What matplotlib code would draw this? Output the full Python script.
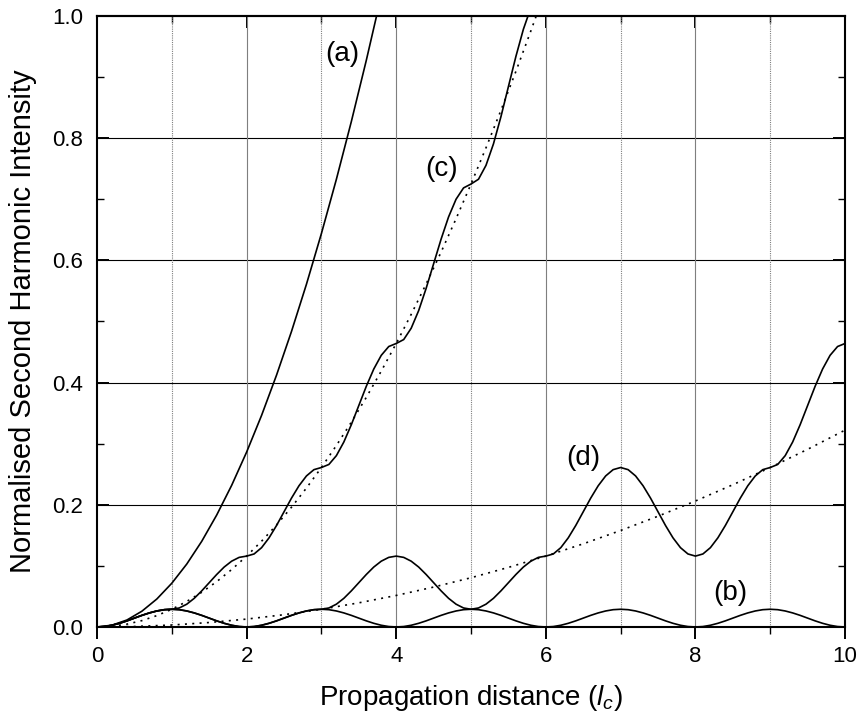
import numpy as np
import matplotlib
matplotlib.use('Agg')
import matplotlib.pyplot as plt
from matplotlib.ticker import MultipleLocator

plt.rcParams['font.family'] = ['Liberation Sans', 'DejaVu Sans']
plt.rcParams['mathtext.fontset'] = 'custom'
plt.rcParams['mathtext.rm'] = 'Liberation Sans'
plt.rcParams['mathtext.it'] = 'Liberation Sans:italic'

# --- DATA ---
# curve (a): perfect phase matching, sampled every 0.2 l_c
x_a = np.linspace(0, 4, 21)
y_a = [0, 0.0029, 0.0114, 0.0258, 0.0458, 0.0716, 0.1030, 0.1402, 0.1832, 0.2318,
       0.2862, 0.3463, 0.4122, 0.4837, 0.5610, 0.6440, 0.7327, 0.8272, 0.9274,
       1.0333, 1.1450]

# curve (b): no phase matching, sampled every 0.1 l_c
x_b = np.linspace(0, 10, 101)
y_b = [0, 0.0007, 0.0028, 0.0060, 0.0100, 0.0145, 0.0190, 0.0230, 0.0262, 0.0283,
       0.0290, 0.0283, 0.0262, 0.0230, 0.0190, 0.0145, 0.0100, 0.0060, 0.0028, 0.0007,
       0, 0.0007, 0.0028, 0.0060, 0.0100, 0.0145, 0.0190, 0.0230, 0.0262, 0.0283,
       0.0290, 0.0283, 0.0262, 0.0230, 0.0190, 0.0145, 0.0100, 0.0060, 0.0028, 0.0007,
       0, 0.0007, 0.0028, 0.0060, 0.0100, 0.0145, 0.0190, 0.0230, 0.0262, 0.0283,
       0.0290, 0.0283, 0.0262, 0.0230, 0.0190, 0.0145, 0.0100, 0.0060, 0.0028, 0.0007,
       0, 0.0007, 0.0028, 0.0060, 0.0100, 0.0145, 0.0190, 0.0230, 0.0262, 0.0283,
       0.0290, 0.0283, 0.0262, 0.0230, 0.0190, 0.0145, 0.0100, 0.0060, 0.0028, 0.0007,
       0, 0.0007, 0.0028, 0.0060, 0.0100, 0.0145, 0.0190, 0.0230, 0.0262, 0.0283,
       0.0290, 0.0283, 0.0262, 0.0230, 0.0190, 0.0145, 0.0100, 0.0060, 0.0028, 0.0007,
       0]

# curve (c): first-order QPM, sampled every 0.1 l_c
x_c = np.linspace(0, 6, 61)
y_c = [0, 0.0007, 0.0028, 0.0060, 0.0100, 0.0145, 0.0190, 0.0230, 0.0262, 0.0283,
       0.0290, 0.0311, 0.0373, 0.0469, 0.0591, 0.0725, 0.0859, 0.0981, 0.1077, 0.1139,
       0.1160, 0.1195, 0.1298, 0.1459, 0.1661, 0.1885, 0.2109, 0.2311, 0.2472, 0.2575,
       0.2610, 0.2660, 0.2804, 0.3028, 0.3311, 0.3625, 0.3939, 0.4222, 0.4446, 0.4590,
       0.4640, 0.4704, 0.4889, 0.5178, 0.5542, 0.5945, 0.6348, 0.6712, 0.7001, 0.7186,
       0.7250, 0.7328, 0.7555, 0.7907, 0.8352, 0.8845, 0.9338, 0.9783, 1.0135, 1.0362,
       1.0440]

# curve (d): third-order QPM, sampled every 0.1 l_c
x_d = np.linspace(0, 10, 101)
y_d = [0, 0.0007, 0.0028, 0.0060, 0.0100, 0.0145, 0.0190, 0.0230, 0.0262, 0.0283,
       0.0290, 0.0283, 0.0262, 0.0230, 0.0190, 0.0145, 0.0100, 0.0060, 0.0028, 0.0007,
       0, 0.0007, 0.0028, 0.0060, 0.0100, 0.0145, 0.0190, 0.0230, 0.0262, 0.0283,
       0.0290, 0.0311, 0.0373, 0.0469, 0.0591, 0.0725, 0.0859, 0.0981, 0.1077, 0.1139,
       0.1160, 0.1139, 0.1077, 0.0981, 0.0859, 0.0725, 0.0591, 0.0469, 0.0373, 0.0311,
       0.0290, 0.0311, 0.0373, 0.0469, 0.0591, 0.0725, 0.0859, 0.0981, 0.1077, 0.1139,
       0.1160, 0.1195, 0.1298, 0.1459, 0.1661, 0.1885, 0.2109, 0.2311, 0.2472, 0.2575,
       0.2610, 0.2575, 0.2472, 0.2311, 0.2109, 0.1885, 0.1661, 0.1459, 0.1298, 0.1195,
       0.1160, 0.1195, 0.1298, 0.1459, 0.1661, 0.1885, 0.2109, 0.2311, 0.2472, 0.2575,
       0.2610, 0.2660, 0.2804, 0.3028, 0.3311, 0.3625, 0.3939, 0.4222, 0.4446, 0.4590,
       0.4640]

# dotted envelopes for (c) and (d)
x_c_env = np.linspace(0, 6, 31)
y_c_env = [0, 0.0012, 0.0046, 0.0104, 0.0186, 0.0290, 0.0418, 0.0568, 0.0742, 0.0940,
           0.1160, 0.1404, 0.1670, 0.1960, 0.2274, 0.2610, 0.2970, 0.3352, 0.3758, 0.4188,
           0.4640, 0.5116, 0.5614, 0.6136, 0.6682, 0.7250, 0.7842, 0.8456, 0.9094, 0.9756,
           1.0440]
x_d_env = np.linspace(0, 10, 21)
y_d_env = [0, 0.0008, 0.0032, 0.0073, 0.0129, 0.0201, 0.0290, 0.0395, 0.0516, 0.0653,
           0.0806, 0.0975, 0.1160, 0.1361, 0.1579, 0.1813, 0.2062, 0.2328, 0.2610, 0.2908,
           0.3222]

curve_labels = ['(a)', '(b)', '(c)', '(d)']
label_pos = [(3.28, 0.938), (8.46, 0.056), (4.6, 0.75), (6.5, 0.276)]

# --- PLOT ---
fig = plt.figure(figsize=(8.6, 7.2), dpi=100)
ax = fig.add_axes([0.1128, 0.1292, 0.8698, 0.8486])

# grid: solid horizontals, solid grey at even x, dotted grey at odd x
for yv in [0.2, 0.4, 0.6, 0.8]:
    ax.axhline(yv, color='black', lw=0.8, zorder=1)
for xv in range(1, 10):
    if xv % 2 == 0:
        ax.axvline(xv, color='#7f7f7f', lw=0.8, zorder=1)
    else:
        ax.axvline(xv, color='#7f7f7f', lw=0.8, ls=(0, (1, 1)), zorder=1)

dots = (0, (1.2, 3.2))
ax.plot(x_c_env, y_c_env, color='black', lw=1.2, ls=dots, zorder=2)
ax.plot(x_d_env, y_d_env, color='black', lw=1.2, ls=dots, zorder=2)
ax.plot(x_a, y_a, color='black', lw=1.2, zorder=3)
ax.plot(x_b, y_b, color='black', lw=1.2, zorder=3)
ax.plot(x_c, y_c, color='black', lw=1.2, zorder=3)
ax.plot(x_d, y_d, color='black', lw=1.2, zorder=3)

for lab, (tx, ty) in zip(curve_labels, label_pos):
    ax.text(tx, ty, lab, fontsize=20, ha='center', va='center')

ax.set_xlim(0, 10)
ax.set_ylim(0, 1.0)
ax.xaxis.set_major_locator(MultipleLocator(2))
ax.xaxis.set_minor_locator(MultipleLocator(1))
ax.yaxis.set_major_locator(MultipleLocator(0.2))
ax.yaxis.set_minor_locator(MultipleLocator(0.1))
ax.yaxis.set_major_formatter(plt.FormatStrFormatter('%.1f'))

for sp in ax.spines.values():
    sp.set_linewidth(1.5)

ax.tick_params(axis='x', which='both', direction='out', top=False, labelsize=16, pad=5)
ax.tick_params(axis='y', which='both', direction='in', right=True, labelsize=16, pad=10)
ax.tick_params(which='major', length=8.5, width=1.4)
ax.tick_params(which='minor', length=5, width=1.0)

# top axis ticks point inwards
top = ax.secondary_xaxis('top')
top.xaxis.set_major_locator(MultipleLocator(2))
top.xaxis.set_minor_locator(MultipleLocator(1))
top.tick_params(which='both', direction='in', labeltop=False)
top.tick_params(which='major', length=8.5, width=1.4)
top.tick_params(which='minor', length=5, width=1.0)
top.spines['top'].set_linewidth(1.5)

ax.set_xlabel(r'Propagation distance ($l_c$)', fontsize=20, labelpad=12)
ax.set_ylabel('Normalised Second Harmonic Intensity', fontsize=21, labelpad=11)

plt.savefig('out.png', dpi=100)
plt.close()
